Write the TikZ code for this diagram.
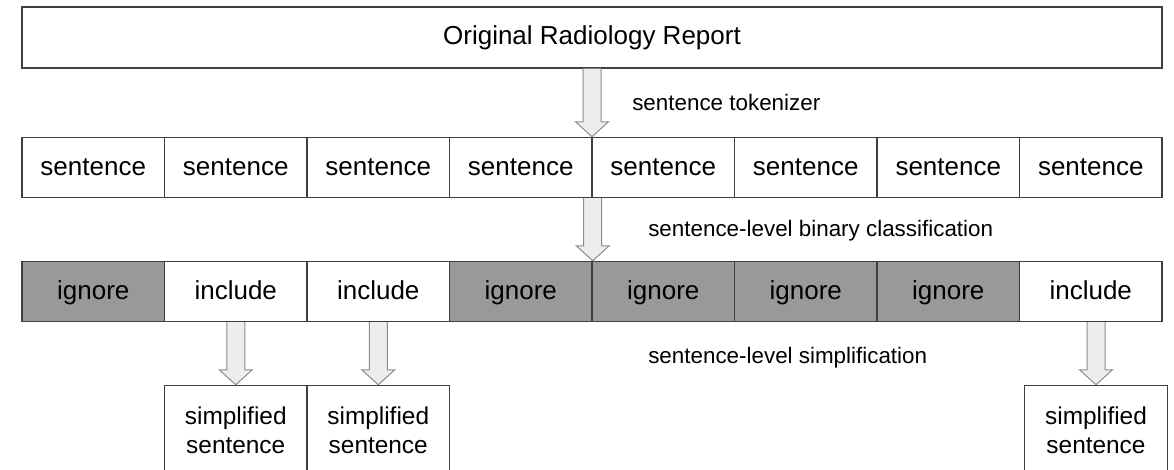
\documentclass[tikz,border=0pt]{standalone}
\usepackage{fontspec}
\setmainfont{Liberation Sans}
\usetikzlibrary{calc}
\tikzset{
	box/.style={draw=black!75, line width=1.1pt, minimum width=106.875pt, inner sep=0pt},
	cell/.style={box, minimum height=45pt, text height=14pt, text depth=1.5pt, font=\fontsize{19.5}{23}\selectfont},
	ignore/.style={fill=black!40},
	include/.style={fill=white},
	simple/.style={box, minimum height=67.5pt, align=center, font=\fontsize{18.3}{21.8}\selectfont},
	note/.style={inner sep=0pt, anchor=base west, font=\fontsize{16.8}{20}\selectfont},
	fatarrow/.style={draw=black!45, fill=black!7, line width=0.75pt, line join=miter}
}
\def\fatarrow(#1)(#2){\draw[fatarrow] ($(#1)+(-9,0)$) -- ($(#1 |- #2)+(-9,-15)$) -- ($(#1 |- #2)+(-16.5,-15)$) -- (#1 |- #2) -- ($(#1 |- #2)+(16.5,-15)$) -- ($(#1 |- #2)+(9,-15)$) -- ($(#1)+(9,0)$);}
\begin{document}
\begin{tikzpicture}[x=0.75pt, y=-0.75pt]
		%%%%% START %%%%%
		\useasboundingbox (0, 0) rectangle (1174, 470);
		\clip (0, 0) rectangle (1174, 470);
		
		\node[cell, minimum width=855pt, minimum height=45.75pt, text depth=4pt] (report) at (592, 37.5) {Original Radiology Report};
		
		\foreach \i in {1,...,8}
			\node[cell] (s\i) at ({93.25+142.5*(\i-1)}, 167.5) {sentence};
		
		\foreach \lab [count=\i] in {ignore,include,include,ignore,ignore,ignore,ignore,include}
			\node[cell, \lab] (c\i) at ({93.25+142.5*(\i-1)}, 291.5) {\lab};
		
		\node[simple] (f1) at (235.75, 430.5) {simplified\\sentence};
		\node[simple] (f2) at (378.25, 430.5) {simplified\\sentence};
		\node[simple] (f3) at (1096, 430.5) {simplified\\sentence};
		
		\fatarrow(report.south)(s4.north east)
		\fatarrow(s4.south east)(c4.north east)
		\fatarrow(c2.south)(f1.north)
		\fatarrow(c3.south)(f2.north)
		\coordinate (a8) at (f3.north |- c8.south);
		\fatarrow(a8)(f3.north)
		
		\node[note] (tok) at (632, 110.7) {sentence tokenizer};
		\node[note] (cls) at (648, 236.7) {sentence-level binary classification};
		\node[note] (simp) at (648, 363) {sentence-level simplification};
		%%%%% END %%%%%
\end{tikzpicture}
\end{document}
